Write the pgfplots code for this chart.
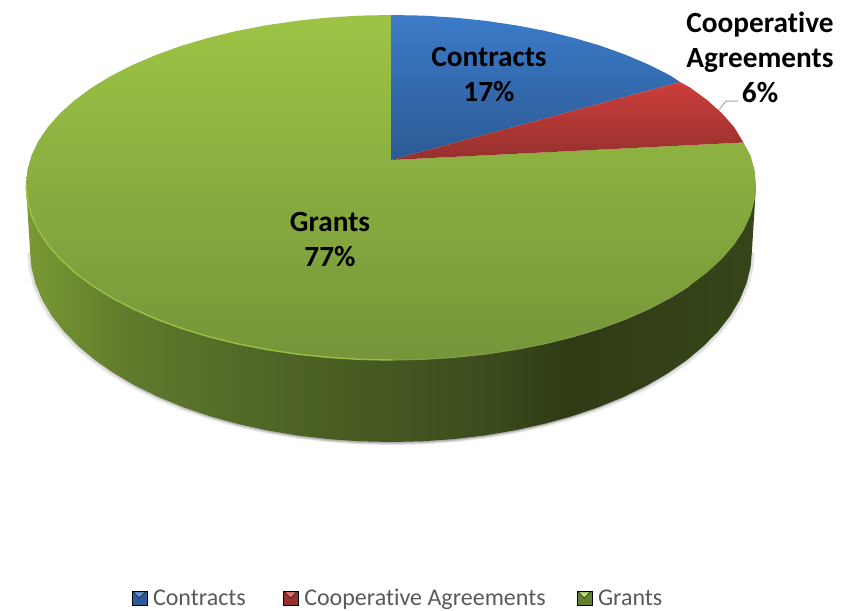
\documentclass[border=0pt]{standalone}
\usepackage{fontspec}
\setmainfont[Ligatures=NoCommon]{Carlito}
\usepackage{pgfplots}
\usepackage{pgfplotstable}
\pgfplotsset{compat=1.18}

\definecolor{blueT}{HTML}{3C7BC9}
\definecolor{blueB}{HTML}{2B5A94}
\definecolor{redT}{HTML}{CC3E3B}
\definecolor{redB}{HTML}{95302D}
\definecolor{greenT}{HTML}{9DC446}
\definecolor{greenB}{HTML}{759539}
\definecolor{legtext}{HTML}{595959}

\tikzset{pie label/.style={font=\fontsize{29.3}{35}\selectfont\bfseries, align=center, text=black, inner sep=0pt}}

\pgfdeclarehorizontalshading{wallshade}{100bp}{
  rgb(0bp)=(0.48,0.60,0.20);
  rgb(25bp)=(0.48,0.60,0.20);
  rgb(27.3bp)=(0.44,0.56,0.19);
  rgb(32bp)=(0.38,0.48,0.17);
  rgb(40.3bp)=(0.32,0.41,0.15);
  rgb(50bp)=(0.27,0.34,0.13);
  rgb(57.4bp)=(0.23,0.29,0.11);
  rgb(62bp)=(0.18,0.23,0.08);
  rgb(68bp)=(0.20,0.25,0.09);
  rgb(75bp)=(0.21,0.27,0.10);
  rgb(100bp)=(0.21,0.27,0.10)}

% pie outlines in picture pixels (y runs downward)
\pgfplotstableread{
x y
391 160
391 15
422.8 15.6
454.4 17.6
485.5 20.8
515.8 25.3
545.3 30.9
573.5 37.8
600.4 45.7
625.6 54.8
649.1 64.8
670.6 75.7
680 82
391 160
}\contracts

\pgfplotstableread{
x y
391 160
680 82
690 87.5
707.1 100
721.8 113.2
734 126.9
743.5 142.5
391 160
}\cooperative

\pgfplotstableread{
x y
391 160
743.5 142.5
750.5 155.5
754.6 170.2
756 185
754.6 200.3
750.5 215.4
743.6 230.3
734 244.9
721.8 259
707.1 272.5
690 285.4
670.6 297.5
649.1 308.7
625.6 319.1
600.4 328.4
573.5 336.6
545.3 343.6
515.8 349.4
485.5 354
454.4 357.3
422.8 359.3
391 360
359.2 359.3
327.6 357.3
296.5 354
266.2 349.4
236.7 343.6
208.5 336.6
181.6 328.4
156.4 319.1
132.9 308.7
111.4 297.5
92 285.4
74.9 272.5
60.2 259
48 244.9
38.4 230.3
31.5 215.4
27.4 200.3
26 185
27.4 170.2
31.5 155.5
38.4 141
48 126.9
60.2 113.2
74.9 100
92 87.5
111.4 75.7
132.9 64.8
156.4 54.8
181.6 45.7
208.5 37.8
236.7 30.9
266.2 25.3
296.5 20.8
327.6 17.6
359.2 15.6
391 15
391 160
}\grants

\pgfplotstableread{
x y
756 185
752 250
750.6 266.7
746.5 283.3
739.7 299.7
730.2 315.7
718.2 331.1
703.6 346
686.7 360.1
667.5 373.4
646.3 385.8
623 397.1
598.1 407.3
571.5 416.3
543.6 424
514.5 430.4
484.4 435.5
453.7 439.1
422.5 441.3
391 442
359.5 441.3
328.3 439.1
297.6 435.5
267.5 430.4
238.4 424
210.5 416.3
183.9 407.3
159 397.1
135.7 385.8
114.5 373.4
95.3 360.1
78.4 346
63.8 331.1
51.8 315.7
42.3 299.7
35.5 283.3
31.4 266.7
30 250
26 185
}\wall

\pgfplotstableread{
x y
26 185
27.4 200.3
31.5 215.4
38.4 230.3
48 244.9
60.2 259
74.9 272.5
92 285.4
111.4 297.5
132.9 308.7
156.4 319.1
181.6 328.4
208.5 336.6
236.7 343.6
266.2 349.4
296.5 354
327.6 357.3
359.2 359.3
391 360
}\rimleft

\pgfplotstableread{
x y
391 360
422.8 359.3
454.4 357.3
485.5 354
515.8 349.4
545.3 343.6
573.5 336.6
600.4 328.4
625.6 319.1
649.1 308.7
670.6 297.5
690 285.4
}\rimright

\begin{document}
\begin{tikzpicture}
\begin{axis}[
  scale only axis,
  width=863pt, height=611pt,
  xmin=0, xmax=863, ymin=0, ymax=611,
  y dir=reverse,
  hide axis,
  clip=false,
  legend columns=3,
  legend style={
    at={(axis cs:398,598)}, anchor=center,
    draw=none, fill=none, inner sep=0pt, outer sep=0pt,
    font=\fontsize{24}{24}\selectfont\color{legtext},
    /tikz/column 1/.style={column sep=4pt},
    /tikz/column 2/.style={column sep=35pt},
    /tikz/column 3/.style={column sep=4pt},
    /tikz/column 4/.style={column sep=29pt},
    /tikz/column 5/.style={column sep=4pt},
  },
  legend cell align=left,
  shadow/.style={forget plot, draw=none, fill=black, restrict y to domain=240:500},
]
% keeps the whole picture area in the page
\path (axis cs:0,0) rectangle (axis cs:863,611);
% soft shadow under the wall
\addplot[shadow, opacity=0.06, xshift=-3pt, yshift=-3pt] table {\wall};
\addplot[shadow, opacity=0.07, xshift=-2pt, yshift=-2pt] table {\wall};
\addplot[shadow, opacity=0.06, xshift=3pt, yshift=-3pt] table {\wall};
\addplot[shadow, opacity=0.07, xshift=2pt, yshift=-2pt] table {\wall};
\addplot[shadow, opacity=0.10, yshift=-1pt] table {\wall};
% wall
\addplot[forget plot, draw=none, shade, shading=wallshade] table {\wall};
% top face
\addplot[forget plot, draw=none, top color=greenT, bottom color=greenB] table {\grants};
\addplot[forget plot, draw=none, top color=blueT, bottom color=blueB] table {\contracts};
\addplot[forget plot, draw=none, top color=redT, bottom color=redB] table {\cooperative};
% bevel along the front edge
\addplot[forget plot, color=greenT, line width=1.5pt, opacity=0.9, line join=round] table {\rimleft};
\addplot[forget plot, color=greenB!92!white, line width=1.2pt, line join=round] table {\rimright};
% leader line of the 6% label
\addplot[forget plot, color=gray!70, line width=1pt] coordinates {(719,110) (726,101) (738,101)};

\addlegendimage{legend image code/.code={
  \path[fill=blueB] (0pt,-7pt) rectangle (15pt,7pt);
  \path[fill=blueT!80!white] (1.5pt,6pt) -- (13.5pt,6pt) -- (7.5pt,0pt) -- cycle;}}
\addlegendentry{Contracts}
\addlegendimage{legend image code/.code={
  \path[fill=redB] (0pt,-7pt) rectangle (15pt,7pt);
  \path[fill=redT!70!white] (1.5pt,6pt) -- (13.5pt,6pt) -- (7.5pt,0pt) -- cycle;}}
\addlegendentry{Cooperative Agreements}
\addlegendimage{legend image code/.code={
  \path[fill=greenB!85!black] (0pt,-7pt) rectangle (15pt,7pt);
  \path[fill=greenT!70!white] (1.5pt,6pt) -- (13.5pt,6pt) -- (7.5pt,0pt) -- cycle;}}
\addlegendentry{Grants}

\node[pie label] at (axis cs:489,75) {Contracts\\17\%};
\node[pie label] at (axis cs:760,57) {Cooperative\\Agreements\\6\%};
\node[pie label] at (axis cs:330,240) {Grants\\77\%};
\end{axis}
\end{tikzpicture}
\end{document}
